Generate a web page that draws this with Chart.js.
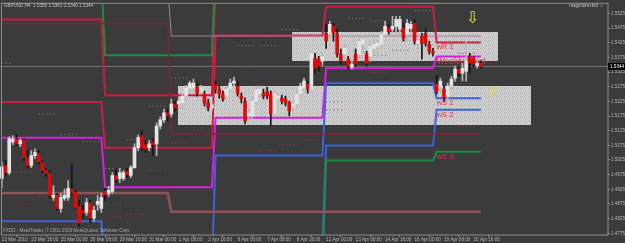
<!DOCTYPE html>
<html>
<head>
<meta charset="utf-8">
<script src="https://cdn.jsdelivr.net/npm/chart.js@4.4.1/dist/chart.umd.min.js"></script>
<style>
  html, body { margin: 0; padding: 0; background: #3b3b3b; }
  #wrap { width: 625px; height: 243px; }
</style>
</head>
<body>
<div id="wrap"><canvas id="chart" width="625" height="243"></canvas></div>
<script>
// GBPUSD H4, 22 Mar 2010 08:00 .. 21 Apr 2010 00:00
const opens = [1.4962,1.5006,1.4982,1.5087,1.5097,1.5080,1.5091,1.5033,1.5006,1.5040,
  1.5046,1.5016,1.4989,1.4979,1.4897,1.4904,1.4860,1.4894,1.4897,1.4925,
  1.4914,1.4867,1.4853,1.4846,1.4877,1.4826,1.4873,1.4860,1.4918,1.4911,
  1.4918,1.4972,1.4962,1.4962,1.4986,1.4972,1.4999,1.5067,1.5108,1.5077,
  1.5067,1.5087,1.5080,1.5141,1.5162,1.5186,1.5182,1.5216,1.5216,1.5220,
  1.5243,1.5270,1.5270,1.5274,1.5260,1.5250,1.5220,1.5203,1.5281,1.5267,
  1.5250,1.5243,1.5267,1.5287,1.5277,1.5243,1.5226,1.5175,1.5175,1.5226,
  1.5250,1.5253,1.5260,1.5250,1.5182,1.5233,1.5236,1.5233,1.5220,1.5206,
  1.5216,1.5250,1.5270,1.5284,1.5267,1.5372,1.5369,1.5362,1.5457,1.5457,
  1.5481,1.5457,1.5386,1.5386,1.5369,1.5342,1.5386,1.5386,1.5420,1.5386,
  1.5379,1.5406,1.5413,1.5420,1.5454,1.5474,1.5471,1.5481,1.5471,1.5474,
  1.5454,1.5474,1.5491,1.5423,1.5447,1.5457,1.5420,1.5396,1.5284,1.5274,
  1.5267,1.5243,1.5277,1.5304,1.5335,1.5321,1.5328,1.5379,1.5372,1.5348,
  1.5356];
const highs = [1.5016,1.5023,1.5104,1.5108,1.5111,1.5097,1.5097,1.5057,1.5057,1.5063,
  1.5057,1.5023,1.4996,1.4989,1.4938,1.4911,1.4911,1.4925,1.4955,1.5012,
  1.4921,1.4887,1.4870,1.4894,1.4887,1.4867,1.4904,1.4911,1.4928,1.4935,
  1.4982,1.4996,1.4996,1.4989,1.4996,1.5006,1.5080,1.5111,1.5124,1.5091,
  1.5091,1.5097,1.5152,1.5172,1.5199,1.5199,1.5233,1.5226,1.5240,1.5253,
  1.5280,1.5294,1.5301,1.5287,1.5280,1.5260,1.5233,1.5226,1.5294,1.5277,
  1.5260,1.5277,1.5301,1.5308,1.5294,1.5253,1.5236,1.5199,1.5240,1.5277,
  1.5277,1.5267,1.5274,1.5260,1.5260,1.5253,1.5246,1.5243,1.5226,1.5226,
  1.5267,1.5287,1.5304,1.5294,1.5396,1.5389,1.5379,1.5389,1.5488,1.5498,
  1.5491,1.5471,1.5403,1.5423,1.5379,1.5369,1.5403,1.5440,1.5447,1.5396,
  1.5423,1.5430,1.5437,1.5464,1.5498,1.5488,1.5515,1.5515,1.5515,1.5491,
  1.5505,1.5498,1.5505,1.5447,1.5457,1.5471,1.5430,1.5406,1.5314,1.5304,
  1.5277,1.5287,1.5311,1.5345,1.5345,1.5355,1.5430,1.5389,1.5379,1.5362,
  1.5363];
const lows = [1.4931,1.4969,1.4975,1.5077,1.5074,1.5070,1.5023,1.4996,1.4999,1.5030,
  1.5012,1.4982,1.4969,1.4894,1.4887,1.4853,1.4846,1.4887,1.4887,1.4904,
  1.4860,1.4799,1.4826,1.4836,1.4812,1.4816,1.4853,1.4846,1.4887,1.4901,
  1.4911,1.4948,1.4948,1.4955,1.4965,1.4965,1.4996,1.5057,1.5057,1.5050,
  1.5057,1.5040,1.5040,1.5131,1.5152,1.5158,1.5172,1.5192,1.5199,1.5199,
  1.5226,1.5253,1.5260,1.5243,1.5253,1.5209,1.5192,1.5192,1.5253,1.5236,
  1.5226,1.5233,1.5260,1.5274,1.5243,1.5220,1.5148,1.5165,1.5158,1.5216,
  1.5240,1.5233,1.5233,1.5141,1.5172,1.5226,1.5216,1.5209,1.5175,1.5186,
  1.5206,1.5240,1.5260,1.5253,1.5260,1.5321,1.5328,1.5348,1.5406,1.5437,
  1.5430,1.5376,1.5352,1.5369,1.5335,1.5335,1.5345,1.5369,1.5389,1.5345,
  1.5362,1.5389,1.5379,1.5406,1.5444,1.5454,1.5457,1.5457,1.5447,1.5430,
  1.5430,1.5464,1.5420,1.5403,1.5369,1.5413,1.5386,1.5379,1.5250,1.5253,
  1.5226,1.5226,1.5267,1.5294,1.5311,1.5294,1.5294,1.5321,1.5342,1.5338,
  1.5340];
const closes = [1.5002,1.4982,1.5097,1.5097,1.5080,1.5091,1.5033,1.5006,1.5040,1.5050,
  1.5019,1.4989,1.4979,1.4904,1.4904,1.4860,1.4897,1.4904,1.4928,1.4914,
  1.4863,1.4809,1.4843,1.4880,1.4826,1.4853,1.4884,1.4897,1.4907,1.4921,
  1.4972,1.4958,1.4982,1.4982,1.4975,1.4999,1.5067,1.5101,1.5067,1.5063,
  1.5080,1.5077,1.5141,1.5162,1.5186,1.5175,1.5216,1.5203,1.5226,1.5243,
  1.5270,1.5287,1.5287,1.5253,1.5270,1.5220,1.5203,1.5213,1.5267,1.5250,
  1.5233,1.5267,1.5287,1.5294,1.5250,1.5233,1.5158,1.5186,1.5226,1.5264,
  1.5267,1.5243,1.5243,1.5182,1.5250,1.5243,1.5226,1.5220,1.5192,1.5216,
  1.5250,1.5277,1.5294,1.5267,1.5389,1.5338,1.5345,1.5379,1.5430,1.5488,
  1.5457,1.5386,1.5362,1.5406,1.5345,1.5352,1.5352,1.5430,1.5437,1.5355,
  1.5413,1.5420,1.5423,1.5454,1.5481,1.5464,1.5481,1.5505,1.5505,1.5440,
  1.5491,1.5488,1.5430,1.5433,1.5423,1.5423,1.5396,1.5389,1.5260,1.5294,
  1.5236,1.5277,1.5301,1.5335,1.5321,1.5338,1.5362,1.5355,1.5352,1.5355,
  1.5344];

// x axis: one slot per H4 bar, labels every 8 bars
const barSlots = 165;
const tickLabels = ['22 Mar 2010','23 Mar 16:00','25 Mar 00:00','26 Mar 08:00','29 Mar 16:00',
  '31 Mar 00:00','1 Apr 08:00','2 Apr 16:00','6 Apr 00:00','7 Apr 08:00','8 Apr 16:00',
  '12 Apr 00:00','13 Apr 08:00','14 Apr 16:00','16 Apr 00:00','19 Apr 08:00','20 Apr 16:00'];
const yTicks = [1.4775,1.4825,1.4875,1.4925,1.4975,1.5025,1.5075,1.5125,1.5175,1.5225,
  1.5275,1.5325,1.5375,1.5425,1.5475,1.5525];

// weekly pivot levels (one value per week; off-screen ones sit beyond the axis)
const weekStarts = [0, 28, 58, 88, 118];
const wPivot = [1.5101, 1.4932, 1.5169, 1.5338, 1.5378];
const wR1 = [1.5223, 1.5067, 1.5450, 1.5548, 1.5426];
const wR2 = [1.5504, 1.5246, 1.5620, 1.5650, 1.5580];
const wR3 = [1.5650, 1.5382, 1.5700, 1.5700, 1.5700];
const wS1 = [1.4816, 1.4650, 1.5040, 1.5287, 1.5236];
const wS2 = [1.4700, 1.4550, 1.4740, 1.5074, 1.5196];
const wS3 = [1.4600, 1.4450, 1.4650, 1.5023, 1.5053];

// monthly levels (March, April)
const monthStarts = [0, 46];
const mHigh = [1.5620, 1.5448];
const mMid = [1.5491, 1.5114];
const mLow = [1.4912, 1.4848];

// daily levels, drawn dotted (one value per trading day, null = not shown)
const dayStarts = [0,4,10,16,22,28,34,40,46,52,58,64,70,76,82,88,94,100,106,112,118,124,130];
const dGrey = [1.5355,1.5223,1.5182,1.5111,1.5087,1.4996,1.5094,1.5209,1.5304,1.5382,
  null,1.5416,1.5416,1.5470,null,null,1.5507,1.5500,null,1.5534,null,null,null];
const dBlue = [1.5185,1.5162,1.5114,1.4989,1.4952,null,1.5040,1.5138,null,1.5334,
  null,1.5341,1.5307,null,null,null,null,null,1.5517,1.5551,1.5480,1.5389,null];
const dPink = [null,1.4985,1.4901,1.4803,null,1.4830,1.4840,1.4989,1.5084,1.5128,
  null,null,1.5057,1.5077,1.5094,1.5223,null,1.5324,1.5399,null,null,1.5141,null];
const dRed = [null,1.4874,null,null,null,null,null,null,null,null,
  null,null,null,null,null,1.5196,null,null,null,null,1.5236,null,null];
const dGreen = [null,null,null,null,null,1.4874,null,null,null,null,
  null,null,null,null,null,null,null,1.5382,null,null,null,null,null];

// supply / demand zones
const zoneFrom = [78.7, 47.8];
const zoneTo = [134.6, 143.6];
const zoneTop = [1.5461, 1.5277];
const zoneBottom = [1.5361, 1.5145];

const lastPrice = 1.5344;
const yMin = 1.4769, yMax = 1.5558;

const FONT = '"Liberation Sans", Arial, sans-serif';

const periodOf = (i, starts) => {
    let k = 0;
    starts.forEach((s, j) => { if (i >= s) k = j; });
    return k;
};

const lineSet = (levels, starts, color, width) => ({
    type: 'line',
    data: closes.map((_, i) => levels[periodOf(i, starts)]),
    borderColor: color,
    borderWidth: width,
    pointRadius: 0,
    tension: 0,
    fill: false,
    order: 5
});

// dotted daily segments, no joins between days
const dotSet = (levels, color) => ({
    type: 'line',
    data: closes.map((_, i) => levels[periodOf(i, dayStarts)]),
    borderColor: color,
    borderWidth: 1,
    borderDash: [1, 2.7],
    pointRadius: 0,
    tension: 0,
    fill: false,
    spanGaps: false,
    order: 6,
    segment: {
        borderColor: c => periodOf(c.p0DataIndex, dayStarts) === periodOf(c.p1DataIndex, dayStarts) ? color : 'transparent'
    }
});

// dithered grey fill used by the zones
const zonePattern = (() => {
    const c = document.createElement('canvas');
    c.width = 4; c.height = 4;
    const p = c.getContext('2d');
    p.fillStyle = '#c9c9c9'; p.fillRect(0, 0, 4, 4);
    p.fillStyle = '#b4b4b4';
    [[0,0],[2,1],[1,3]].forEach(([x, y]) => p.fillRect(x, y, 1, 1));
    p.fillStyle = '#d9d9d9';
    [[3,0],[0,2],[2,3]].forEach(([x, y]) => p.fillRect(x, y, 1, 1));
    return c;
})();

const chartPlugin = {
    id: 'mt4',
    beforeDraw(chart) {
        const ctx = chart.ctx;
        ctx.save();
        ctx.fillStyle = '#3b3b3b';
        ctx.fillRect(0, 0, chart.width, chart.height);
        ctx.restore();
    },
    beforeDatasetsDraw(chart) {
        const { ctx, chartArea: a, scales: { x, y } } = chart;
        ctx.save();
        ctx.beginPath();
        ctx.rect(a.left, a.top, a.right - a.left, a.bottom - a.top);
        ctx.clip();
        // zones
        ctx.fillStyle = ctx.createPattern(zonePattern, 'repeat');
        zoneFrom.forEach((f, i) => {
            const x0 = x.getPixelForValue(f), x1 = x.getPixelForValue(zoneTo[i]);
            const y0 = y.getPixelForValue(zoneTop[i]), y1 = y.getPixelForValue(zoneBottom[i]);
            ctx.fillRect(Math.round(x0), Math.round(y0), Math.round(x1 - x0), Math.round(y1 - y0));
        });
        // bid line
        const py = Math.round(y.getPixelForValue(lastPrice)) + 0.5;
        ctx.strokeStyle = '#727272';
        ctx.lineWidth = 1;
        ctx.beginPath();
        ctx.moveTo(a.left, py);
        ctx.lineTo(a.right, py);
        ctx.stroke();
        // weekly level names
        const last = weekStarts.length - 1;
        const bx = x.getPixelForValue(weekStarts[last]);
        ctx.textBaseline = 'top';
        ctx.fillStyle = '#e2304a';
        ctx.font = '7.5px ' + FONT;
        [['wR 1', wR1], ['wS 1', wS1], ['wS 2', wS2], ['wS 3', wS3]].forEach(([t, arr]) => {
            ctx.fillText(t, bx, y.getPixelForValue(arr[last]) + 1);
        });
        ctx.font = '8.5px ' + FONT;
        ctx.fillText('Weekly Pivot', bx, y.getPixelForValue(wPivot[last]) + 1);
        ctx.restore();
    },
    afterDatasetsDraw(chart) {
        const { ctx, chartArea: a, scales: { x, y } } = chart;
        ctx.save();
        // marks
        ctx.fillStyle = '#e2e21c';
        ctx.textAlign = 'center';
        ctx.textBaseline = 'middle';
        ctx.font = '16px "DejaVu Sans"';
        ctx.fillText('\u21E9', x.getPixelForValue(127.7), y.getPixelForValue(1.5505));
        ctx.font = 'bold 15px "DejaVu Sans"';
        ctx.fillText('\u2713', x.getPixelForValue(133.6), y.getPixelForValue(1.5257));
        // frame
        ctx.strokeStyle = '#8e8e8e';
        ctx.lineWidth = 1;
        ctx.strokeRect(1.5, a.top - 0.5, a.right - 1.5, a.bottom - a.top + 0.5);
        // texts
        ctx.textAlign = 'left';
        ctx.textBaseline = 'middle';
        ctx.fillStyle = '#c4c4c4';
        ctx.font = '4.6px ' + FONT;
        ctx.fillText('GBPUSD,H4  1.5356 1.5363 1.5340 1.5344', 4, 5.5);
        ctx.fillStyle = '#a8a8a8';
        ctx.fillText('FXDD - MetaTrader, \u00A9 2001-2009 MetaQuotes Software Corp.', 3, 231);
        ctx.textAlign = 'right';
        ctx.fillStyle = '#c4c4c4';
        ctx.fillText('magicforexbot \u263A', a.right - 4, 5.5);
        // bid label
        const py = Math.round(y.getPixelForValue(lastPrice));
        ctx.fillStyle = '#000';
        ctx.fillRect(a.right, py - 3, chart.width - a.right, 7);
        ctx.fillStyle = '#ffffff';
        ctx.textAlign = 'left';
        ctx.fillText(lastPrice.toFixed(4), a.right + 2, py + 0.5);
        ctx.restore();
    }
};

const bull = closes.map((c, i) => c >= opens[i]);

new Chart(document.getElementById('chart'), {
    type: 'bar',
    data: {
        labels: Array.from({ length: barSlots }, (_, i) => i),
        datasets: [
            {
                data: opens.map((o, i) => [Math.min(o, closes[i]), Math.max(o, closes[i])]),
                backgroundColor: bull.map(b => b ? '#e4e4e4' : '#dd0a0a'),
                borderWidth: 0,
                barThickness: 3,
                grouped: false,
                order: 0
            },
            {
                data: lows.map((l, i) => [l, highs[i]]),
                backgroundColor: bull.map(b => b ? '#b8b8b8' : '#151515'),
                borderWidth: 0,
                barThickness: 1,
                grouped: false,
                order: 1
            },
            lineSet(mLow, monthStarts, '#8a5656', 2.5),
            lineSet(mMid, monthStarts, '#7c2636', 1.5),
            lineSet(mHigh, monthStarts, '#a47ea8', 1),
            lineSet(wR3, weekStarts, '#1f8a42', 2),
            lineSet(wS3, weekStarts, '#1f8a42', 2),
            lineSet(wS2, weekStarts, '#3f63d8', 2),
            lineSet(wS1, weekStarts, '#3f63d8', 2),
            lineSet(wR2, weekStarts, '#c81e3c', 2),
            lineSet(wR1, weekStarts, '#c8203e', 2),
            lineSet(wPivot, weekStarts, '#dc1edc', 2),
            dotSet(dGrey, '#8c8c8c'),
            dotSet(dBlue, '#3434c4'),
            dotSet(dPink, '#b4307c'),
            dotSet(dRed, '#c0283c'),
            dotSet(dGreen, '#2a8a3e')
        ]
    },
    options: {
        responsive: false,
        animation: false,
        devicePixelRatio: 1,
        layout: { padding: { left: 0, top: 2, right: 0, bottom: 0 } },
        plugins: { legend: { display: false }, tooltip: { enabled: false } },
        scales: {
            x: {
                type: 'category',
                offset: true,
                grid: { drawOnChartArea: false, drawTicks: true, tickLength: 2, color: '#8e8e8e' },
                border: { display: false },
                ticks: {
                    autoSkip: false,
                    maxRotation: 0,
                    align: 'start',
                    padding: 0,
                    color: '#b8b8b8',
                    font: { size: 4.6, family: FONT },
                    callback: (v, i) => (i % 8 === 0 && tickLabels[i / 8]) ? tickLabels[i / 8] : null
                },
                afterFit: s => { s.height = 8; }
            },
            y: {
                type: 'linear',
                position: 'right',
                min: yMin,
                max: yMax,
                grid: { drawOnChartArea: false, drawTicks: true, tickLength: 2, color: '#8e8e8e' },
                border: { display: false },
                afterBuildTicks: s => { s.ticks = yTicks.map(v => ({ value: v })); },
                ticks: {
                    padding: 1,
                    color: '#b8b8b8',
                    font: { size: 4.6, family: FONT },
                    callback: v => v.toFixed(4)
                },
                afterFit: s => { s.width = 17; }
            }
        }
    },
    plugins: [chartPlugin]
});
</script>
</body>
</html>
